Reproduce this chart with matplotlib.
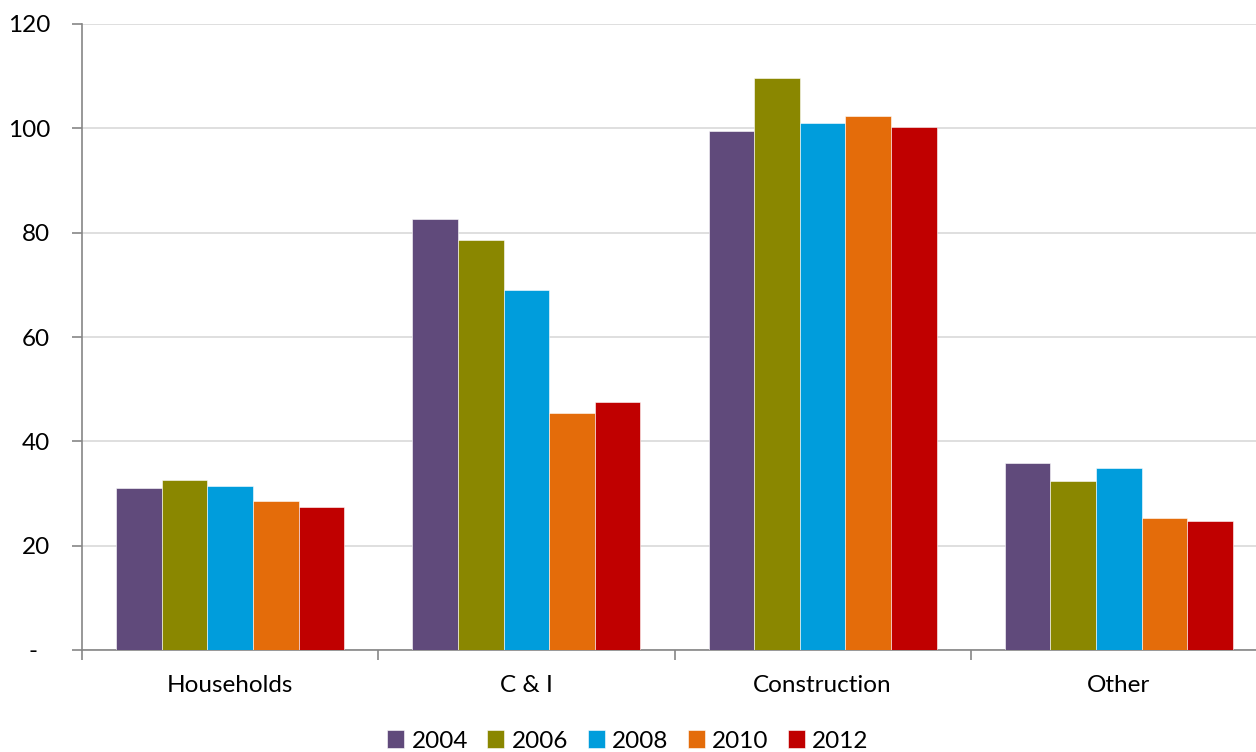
import matplotlib.pyplot as plt
import numpy as np

plt.rcParams['font.family'] = ['Lato', 'DejaVu Sans']

categorias = ['Households', 'C & I', 'Construction', 'Other']
anios = ['2004', '2006', '2008', '2010', '2012']
valores = [
    [31.0, 82.7, 99.4, 35.8],   # 2004
    [32.5, 78.6, 109.6, 32.4],  # 2006
    [31.5, 69.0, 101.1, 34.9],  # 2008
    [28.6, 45.4, 102.3, 25.3],  # 2010
    [27.5, 47.5, 100.3, 24.7],  # 2012
]
colores = ['#604A7B', '#8A8700', '#009DDC', '#E46C0A', '#C00000']

fig = plt.figure(figsize=(12.56, 7.52), dpi=100)
ax = fig.add_axes([82/1256, 102/752, 1185/1256, 626/752])

x = np.arange(len(categorias))
ancho = 0.154
for i, (anio, vals) in enumerate(zip(anios, valores)):
    ax.bar(x + (i - 2) * ancho, vals, ancho, color=colores[i], label=anio,
           edgecolor='white', linewidth=0.4, zorder=3)

# Configurar los ejes
ax.set_xlim(-0.5, 3.5)
ax.set_ylim(0, 120)
ax.set_yticks(range(0, 121, 20))
ax.set_yticklabels(['-  '] + [str(v) for v in range(20, 121, 20)], fontsize=17.5)
ax.yaxis.grid(True, color='#D9D9D9', linewidth=1.2, zorder=0)
ax.set_xticks([-0.5, 0.5, 1.5, 2.5, 3.5])
ax.set_xticklabels([])
ax.set_xticks(x, minor=True)
ax.set_xticklabels(categorias, minor=True, fontsize=17.5)
ax.tick_params(axis='x', which='minor', length=0, pad=18)
ax.tick_params(axis='x', which='major', length=7, color='#868686', width=1.2)
ax.tick_params(axis='y', length=7, color='#868686', width=1.2, pad=16)
for s in ['top', 'right']:
    ax.spines[s].set_visible(False)
for s in ['left', 'bottom']:
    ax.spines[s].set_color('#868686')
    ax.spines[s].set_linewidth(1.2)

# Añadir la leyenda
fig.legend(loc='center', bbox_to_anchor=(0.5, 1 - 741/752), ncol=5, frameon=False,
           fontsize=17.5, handlelength=0.7, handleheight=0.7, handletextpad=0.3,
           columnspacing=0.8)

fig.savefig('out.png', dpi=100)
